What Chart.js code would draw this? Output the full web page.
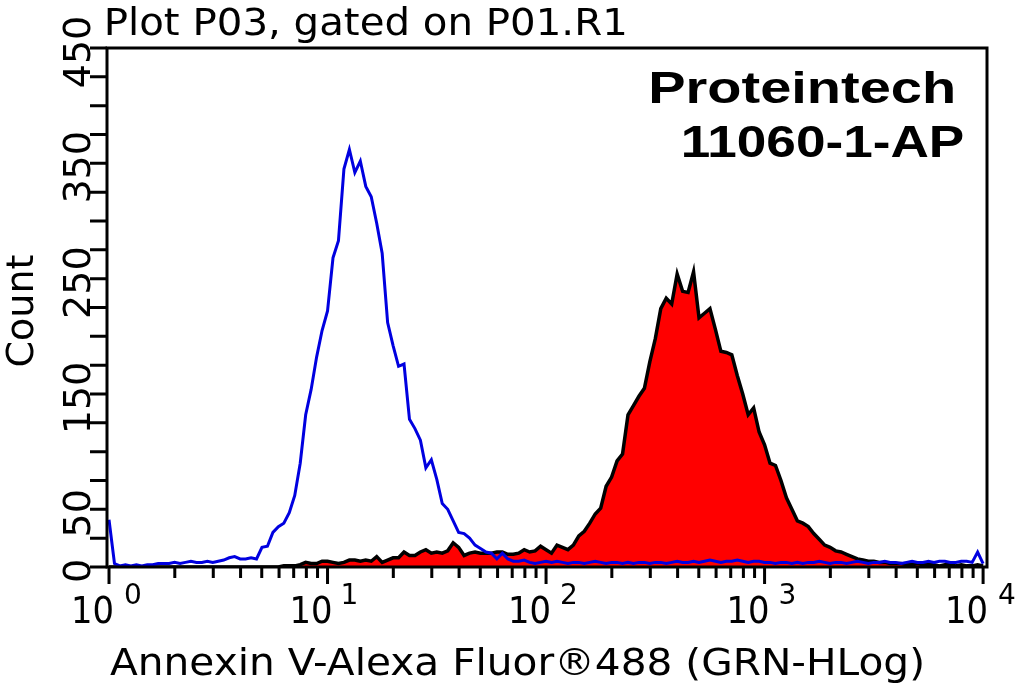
<!DOCTYPE html>
<html>
<head>
<meta charset="utf-8">
<script src="https://cdn.jsdelivr.net/npm/chart.js@4"></script>
<style>
html, body { margin: 0; padding: 0; background: #fff; }
#wrap { width: 1015px; height: 683px; position: relative; }
</style>
</head>
<body>
<div id="wrap"><canvas id="myChart"></canvas></div>
<script>
// histogram channels: 40 bins per decade, 10^0 .. 10^4
const binsPerDecade = 40;

// blue outline (unstained / control)
const controlCounts = [
  41, 3, 1, 2, 1, 2, 1, 2, 2, 3,
  3, 3, 4, 3, 4, 5, 4, 4, 5, 4,
  5, 6, 8, 9, 7, 7, 8, 7, 17, 18,
  30, 35, 38, 47, 62, 90, 132, 154, 182, 205,
  222, 268, 283, 345, 362, 342, 352, 330, 321, 298,
  272, 212, 192, 174, 176, 128, 120, 110, 86, 93,
  76, 55, 50, 40, 30, 29, 25, 19, 16, 13,
  12, 7, 12, 7, 5, 5, 6, 4, 3, 4,
  5, 4, 5, 4, 3, 4, 4, 3, 4, 5,
  4, 3, 4, 4, 3, 4, 3, 4, 4, 3,
  4, 4, 3, 4, 5, 4, 4, 5, 4, 5,
  6, 5, 4, 5, 5, 6, 5, 4, 5, 5,
  4, 4, 3, 4, 4, 3, 4, 3, 4, 4,
  5, 4, 3, 4, 4, 3, 4, 5, 4, 3,
  4, 4, 5, 4, 4, 3, 4, 5, 4, 4,
  5, 4, 5, 5, 4, 4, 5, 5, 4, 13,
  3
];

// red filled (Annexin V stained)
const stainedCounts = [
  0, 0, 0, 0, 0, 0, 0, 0, 0, 0,
  0, 0, 0, 0, 0, 0, 0, 0, 0, 0,
  0, 0, 0, 0, 0, 0, 0, 0, 0, 0,
  0, 0, 1, 1, 1, 2, 4, 3, 3, 5,
  5, 4, 3, 4, 6, 6, 5, 6, 5, 9,
  4, 6, 8, 8, 13, 10, 10, 13, 15, 12,
  13, 12, 14, 21, 17, 10, 12, 13, 12, 12,
  12, 13, 13, 11, 11, 12, 15, 13, 14, 18,
  15, 12, 19, 17, 15, 19, 27, 31, 38, 46,
  51, 70, 78, 92, 98, 132, 140, 148, 155, 178,
  198, 224, 233, 228, 254, 239, 238, 256, 216, 220,
  224, 206, 187, 186, 184, 166, 150, 132, 138, 117,
  106, 90, 88, 75, 60, 50, 40, 38, 35, 29,
  24, 19, 17, 14, 13, 11, 9, 7, 6, 5,
  5, 4, 4, 3, 3, 3, 2, 2, 3, 2,
  2, 2, 1, 2, 2, 1, 2, 1, 1, 2,
  1
];

const xDecades = [0, 1, 2, 3, 4];
const yTickLabels = [0, 50, 150, 250, 350, 450];
const yMinorStep = 25;

const channels = controlCounts.map((_, i) => Math.pow(10, i / binsPerDecade));

// draw text so its ink spans left..right (stretched horizontally)
function fitText(ctx, text, font, left, right, baseline) {
  ctx.save();
  ctx.font = font;
  ctx.textAlign = 'left';
  ctx.textBaseline = 'alphabetic';
  const m = ctx.measureText(text);
  const ink = m.actualBoundingBoxLeft + m.actualBoundingBoxRight;
  const sx = (right - left) / ink;
  ctx.translate(left, baseline);
  ctx.scale(sx, 1);
  ctx.fillText(text, m.actualBoundingBoxLeft, 0);
  ctx.restore();
}

const frame = {
  id: 'frame',
  afterDraw(chart) {
    const ctx = chart.ctx;
    const area = chart.chartArea;
    const xs = chart.scales.x;
    const ys = chart.scales.y;
    ctx.save();
    ctx.fillStyle = '#000';
    ctx.strokeStyle = '#000';
    ctx.lineWidth = 3;

    // box
    ctx.strokeRect(area.left, area.top, area.right - area.left, area.bottom - area.top);

    // y ticks
    ctx.beginPath();
    for (let v = 0; v <= 450; v += yMinorStep) {
      const py = ys.getPixelForValue(v);
      ctx.moveTo(90, py);
      ctx.lineTo(area.left, py);
    }
    ctx.stroke();

    // x ticks (decades + 2..9)
    ctx.beginPath();
    xDecades.forEach(d => {
      const steps = d < 4 ? 9 : 1;
      for (let m = 1; m <= steps; m++) {
        const px = xs.getPixelForValue(m * Math.pow(10, d));
        ctx.moveTo(px, area.bottom);
        ctx.lineTo(px, area.bottom + (m === 1 ? 17 : 11));
      }
    });
    ctx.stroke();

    // y tick labels, rotated
    ctx.font = '38px "DejaVu Sans"';
    ctx.textAlign = 'center';
    ctx.textBaseline = 'alphabetic';
    yTickLabels.forEach(v => {
      const py = ys.getPixelForValue(v);
      ctx.save();
      ctx.translate(90, py + 4);
      ctx.rotate(-Math.PI / 2);
      ctx.fillText(String(v), 0, 0);
      ctx.restore();
    });

    // y title
    ctx.save();
    ctx.translate(33, 311);
    ctx.rotate(-Math.PI / 2);
    ctx.fillText('Count', 0, 0);
    ctx.restore();

    // x tick labels: 10 with superscript exponent
    xDecades.forEach(d => {
      const px = xs.getPixelForValue(Math.pow(10, d));
      ctx.save();
      ctx.font = '38px "DejaVu Sans"';
      ctx.textAlign = 'right';
      const m = ctx.measureText('10');
      ctx.translate(px + 3, 623);
      ctx.scale(0.89, 1);
      ctx.fillText('10', -m.actualBoundingBoxRight, 0);
      ctx.restore();
      ctx.save();
      ctx.font = '28px "DejaVu Sans"';
      ctx.textAlign = 'left';
      const e = ctx.measureText(String(d));
      ctx.fillText(String(d), px + 16 + e.actualBoundingBoxLeft, 604);
      ctx.restore();
    });

    // titles
    fitText(ctx, 'Plot P03, gated on P01.R1', '37px "DejaVu Sans"', 107, 625, 35);
    fitText(ctx, 'Annexin V-Alexa Fluor\u00AE488 (GRN-HLog)', '38px "DejaVu Sans"', 110, 922, 675);
    fitText(ctx, 'Proteintech', 'bold 45px "Liberation Sans"', 652, 953, 103);
    fitText(ctx, '11060-1-AP', 'bold 45px "Liberation Sans"', 683, 963, 157);
    ctx.restore();
  }
};

const ctx = document.getElementById('myChart');
const myChart = new Chart(ctx, {
  type: 'line',
  data: {
    datasets: [
      {
        data: channels.map((x, i) => ({ x: x, y: controlCounts[i] })),
        borderColor: '#0000e0',
        borderWidth: 3,
        pointRadius: 0,
        tension: 0,
        fill: false
      },
      {
        data: channels.map((x, i) => ({ x: x, y: stainedCounts[i] })),
        borderColor: '#000000',
        backgroundColor: '#ff0000',
        borderWidth: 3.5,
        pointRadius: 0,
        tension: 0,
        fill: 'origin'
      }
    ]
  },
  options: {
    responsive: true,
    maintainAspectRatio: false,
    animation: false,
    layout: { padding: { left: 107, right: 28, top: 48, bottom: 116 } },
    scales: {
      x: { type: 'logarithmic', min: 0.979, max: 10420, display: false },
      y: { type: 'linear', min: 0, max: 450, display: false }
    },
    plugins: {
      legend: { display: false },
      tooltip: { enabled: false }
    }
  },
  plugins: [frame]
});
</script>
</body>
</html>
